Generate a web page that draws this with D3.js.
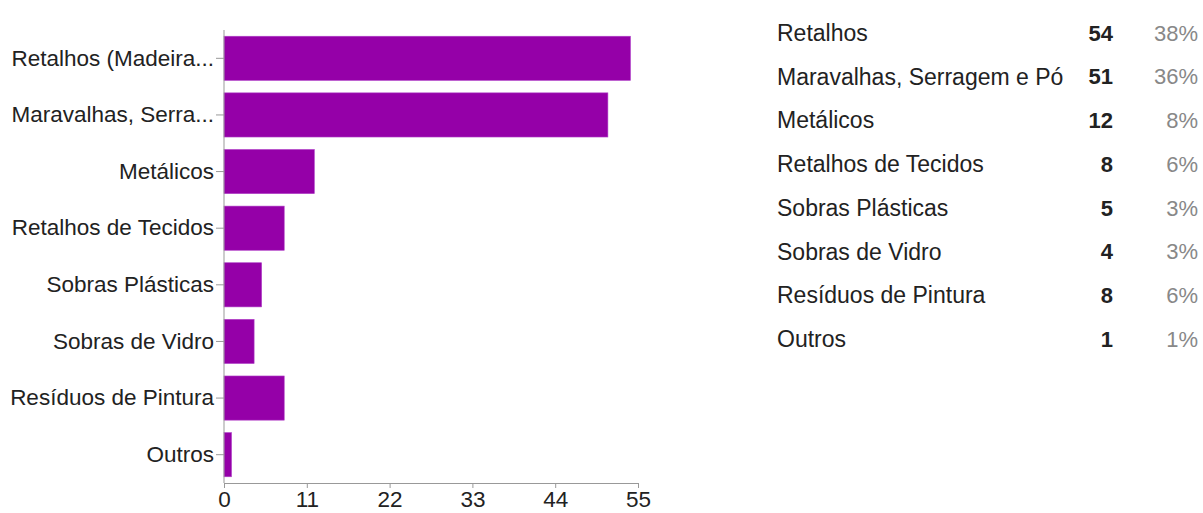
<!DOCTYPE html>
<html>
<head>
    <meta charset="utf-8">
    <title>Resíduos</title>
    <style>
        body{
            margin: 0;
            background: #fff;
        }
        svg{
            font-family: "Liberation Sans", Arial, sans-serif;
        }
        .axis text{
            fill: #222;
            font-size: 22.5px;
        }
        .axis path, .axis line{
            stroke: #999;
        }
    </style>
    <script src="https://cdn.jsdelivr.net/npm/d3@7"></script>
</head>
<body>
<svg width="1203" height="513"></svg>
<script type="text/javascript">
    // bar chart labels (truncated like the original)
    const barLabels = ["Retalhos (Madeira...", "Maravalhas, Serra...", "Metálicos", "Retalhos de Tecidos",
        "Sobras Plásticas", "Sobras de Vidro", "Resíduos de Pintura", "Outros"]
    // table labels
    const tableLabels = ["Retalhos", "Maravalhas, Serragem e Pó", "Metálicos", "Retalhos de Tecidos",
        "Sobras Plásticas", "Sobras de Vidro", "Resíduos de Pintura", "Outros"]
    const counts = [54, 51, 12, 8, 5, 4, 8, 1]
    const percents = ["38%", "36%", "8%", "6%", "3%", "3%", "6%", "1%"]
    const xTicks = [0, 11, 22, 33, 44, 55]

    let svg = d3.select('svg')

    // ******************************
    // scales
    let x = d3.scaleLinear().domain([0, 55]).range([224, 638])
    let y = d3.scaleBand().domain(barLabels).range([30, 483]).paddingInner(0.22).paddingOuter(0.11)

    // bars
    svg.append('g')
        .selectAll('rect')
        .data(counts)
        .enter()
        .append('rect')
        .attr('x', x(0))
        .attr('y', (d, i) => y(barLabels[i]))
        .attr('width', d => x(d) - x(0))
        .attr('height', y.bandwidth())
        .attr('fill', '#9500a8')
        .attr('stroke', '#b040c8')
        .attr('stroke-width', 0.6)

    // y axis
    svg.append('g')
        .attr('class', 'axis')
        .attr('transform', `translate(${x(0)},0)`)
        .call(d3.axisLeft(y).tickSizeOuter(0).tickSize(8).tickPadding(2))
        .call(g => g.select('.domain').attr('d', `M0,30V483`))

    // x axis
    svg.append('g')
        .attr('class', 'axis')
        .attr('transform', `translate(0,483)`)
        .call(d3.axisBottom(x).tickValues(xTicks).tickSize(5).tickSizeOuter(0).tickPadding(3))

    // ******************************
    // table on the right
    let rowY = d3.scaleLinear().domain([0, 7]).range([33, 339])
    let rows = svg.append('g')
        .selectAll('g')
        .data(tableLabels)
        .enter()
        .append('g')
        .attr('transform', (d, i) => `translate(0,${rowY(i)})`)
        .style('font-size', '23px')
    rows.append('text')
        .attr('x', 777)
        .attr('dy', '0.35em')
        .attr('fill', '#222')
        .text(d => d)
    rows.append('text')
        .attr('x', 1113)
        .attr('dy', '0.35em')
        .attr('text-anchor', 'end')
        .attr('font-weight', 'bold')
        .attr('font-size', '22px')
        .attr('fill', '#222')
        .text((d, i) => counts[i])
    rows.append('text')
        .attr('x', 1198)
        .attr('dy', '0.35em')
        .attr('text-anchor', 'end')
        .attr('font-size', '22px')
        .attr('fill', '#888')
        .text((d, i) => percents[i])
</script>
</body>
</html>
